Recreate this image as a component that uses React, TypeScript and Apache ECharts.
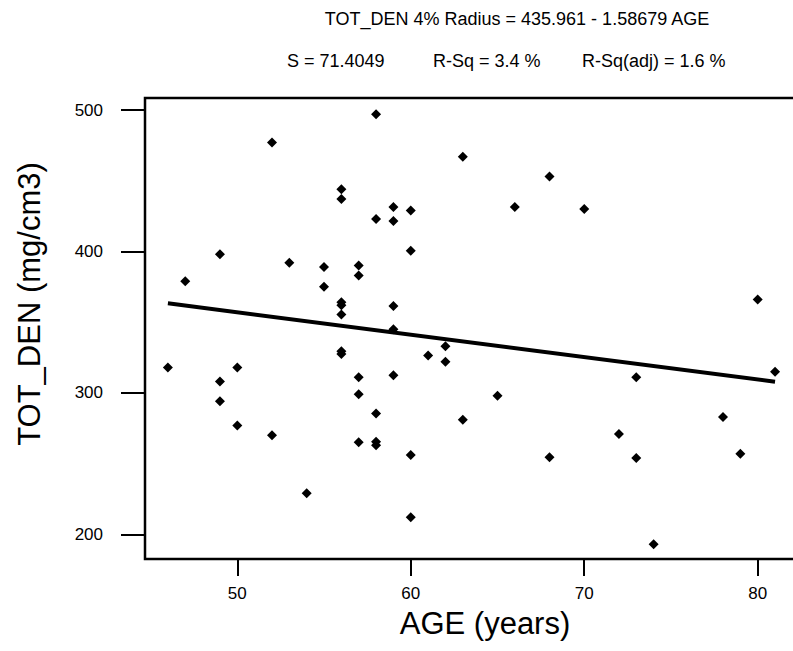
import React, { useEffect, useRef } from "react";
import * as echarts from "echarts";

const ages = [
  46, 47, 49, 49, 49, 50, 50, 52, 52, 53, 54, 55, 55,
  56, 56, 56, 56, 56, 56, 56,
  57, 57, 57, 57, 57,
  58, 58, 58, 58, 58,
  59, 59, 59, 59, 59,
  60, 60, 60, 60,
  61, 62, 62, 63, 63, 65, 66, 68, 68, 70, 72, 73, 73, 74, 78, 79, 80, 81,
];
const density = [
  318, 379, 398, 308, 294, 318, 277, 477, 270, 392, 229, 389, 375,
  444, 437, 364, 362, 355.5, 329.5, 327.5,
  390, 383, 311, 299, 265,
  497, 423, 285.5, 265.5, 263,
  431.5, 421.5, 361.5, 345, 312.5,
  429, 400.5, 256, 212,
  326.5, 333, 322, 467, 281, 298, 431.5, 453, 254.5, 430, 271, 311, 254, 193, 283, 257, 366, 315,
];
const fitAges = [46, 81];
const fitDensity = [363.3, 307.9];
const xTicks = [50, 60, 70, 80];
const yTicks = [200, 300, 400, 500];

const titleLine1 = "TOT_DEN 4% Radius = 435.961 - 1.58679 AGE";
const statS = "S = 71.4049";
const statR = "R-Sq = 3.4 %";
const statRAdj = "R-Sq(adj) = 1.6 %";
const xTitle = "AGE (years)";
const yTitle = "TOT_DEN (mg/cm3)";

const FONT = "Arial, 'Liberation Sans', Helvetica, sans-serif";

export default function App() {
  const ref = useRef<HTMLDivElement>(null);
  useEffect(() => {
    if (!ref.current) return;
    const chart = echarts.init(ref.current, null, { renderer: "svg" });
    const points = ages.map((a, i) => [a, density[i]]);
    const fit = fitAges.map((a, i) => [a, fitDensity[i]]);
    chart.setOption({
      animation: false,
      backgroundColor: "#fff",
      textStyle: { fontFamily: FONT },
      grid: {
        left: 145,
        top: 98,
        width: 680,
        height: 461,
        show: true,
        borderColor: "#000",
        borderWidth: 2.5,
        backgroundColor: "transparent",
      },
      xAxis: {
        type: "value",
        min: 44.68,
        max: 83.88,
        minInterval: 10,
        maxInterval: 10,
        splitLine: { show: false },
        axisLine: { show: true, onZero: false, lineStyle: { color: "#000", width: 2 } },
        axisTick: {
          show: true,
          inside: false,
          length: 17,
          customValues: xTicks,
          lineStyle: { color: "#000", width: 2 },
        },
        axisLabel: {
          show: true,
          customValues: xTicks,
          margin: 26,
          fontSize: 17,
          color: "#000",
          fontFamily: FONT,
        },
      },
      yAxis: {
        type: "value",
        min: 182.53,
        max: 508.5,
        minInterval: 100,
        maxInterval: 100,
        splitLine: { show: false },
        axisLine: { show: true, onZero: false, lineStyle: { color: "#000", width: 2 } },
        axisTick: {
          show: true,
          inside: false,
          length: 24,
          customValues: yTicks,
          lineStyle: { color: "#000", width: 2 },
        },
        axisLabel: {
          show: true,
          customValues: yTicks,
          margin: 42,
          fontSize: 17,
          color: "#000",
          fontFamily: FONT,
        },
      },
      graphic: [
        {
          type: "text",
          x: 517,
          y: 19,
          style: {
            text: titleLine1,
            fontSize: 18,
            fontFamily: FONT,
            fill: "#000",
            align: "center",
            verticalAlign: "middle",
          },
        },
        {
          type: "text",
          x: 287,
          y: 61,
          style: { text: statS, fontSize: 18, fontFamily: FONT, fill: "#000", align: "left", verticalAlign: "middle" },
        },
        {
          type: "text",
          x: 433,
          y: 61,
          style: { text: statR, fontSize: 18, fontFamily: FONT, fill: "#000", align: "left", verticalAlign: "middle" },
        },
        {
          type: "text",
          x: 582,
          y: 61,
          style: { text: statRAdj, fontSize: 18, fontFamily: FONT, fill: "#000", align: "left", verticalAlign: "middle" },
        },
        {
          type: "text",
          x: 485,
          y: 623,
          style: { text: xTitle, fontSize: 31, fontFamily: FONT, fill: "#000", align: "center", verticalAlign: "middle" },
        },
        {
          type: "text",
          x: 29,
          y: 304,
          rotation: Math.PI / 2,
          style: { text: yTitle, fontSize: 31, fontFamily: FONT, fill: "#000", align: "center", verticalAlign: "middle" },
        },
      ],
      series: [
        {
          type: "line",
          data: fit,
          symbol: "none",
          lineStyle: { color: "#000", width: 4 },
          z: 2,
        },
        {
          type: "scatter",
          data: points,
          symbol: "diamond",
          symbolSize: 10,
          itemStyle: { color: "#000", opacity: 1 },
          z: 3,
        },
      ],
    });
    return () => chart.dispose();
  }, []);
  return (
    <div
      ref={ref}
      style={{ position: "fixed", left: 0, top: 0, width: 850, height: 651, background: "#fff" }}
    />
  );
}
